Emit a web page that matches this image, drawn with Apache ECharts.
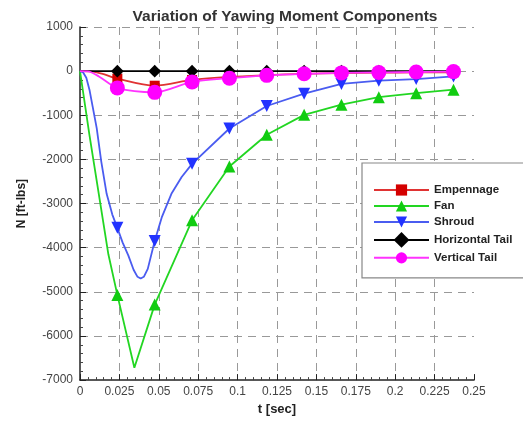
<!DOCTYPE html>
<html>
<head>
<meta charset="utf-8">
<script src="https://cdn.jsdelivr.net/npm/echarts@6/dist/echarts.min.js"></script>
<style>
  html, body { margin: 0; padding: 0; background: #fff; }
  #chart { width: 523px; height: 421px; }
</style>
</head>
<body>
<div id="chart"></div>
<script>
// times where the plot puts a marker
var markerT = [0.0237, 0.0474, 0.0711, 0.0948, 0.1185, 0.1422, 0.1659, 0.1896, 0.2133, 0.237];

// Empennage
var tEmp = [0, 0.008, 0.015, 0.0237, 0.0474, 0.0711, 0.0948, 0.1185, 0.1422, 0.1659, 0.1896, 0.2133, 0.237];
var vEmp = [0, -10, -70, -170, -330, -200, -130, -90, -60, -45, -35, -30, -25];

// Fan
var tFan = [0, 0.006, 0.018, 0.0237, 0.0345, 0.0474, 0.0711, 0.0948, 0.1185, 0.1422, 0.1659, 0.1896, 0.2133, 0.237];
var vFan = [0, -1450, -4150, -5070, -6720, -5290, -3380, -2160, -1440, -990, -760, -590, -500, -420];

// Shroud
var tShr = [0, 0.002, 0.004, 0.006, 0.008, 0.0106, 0.0135, 0.0169, 0.0205, 0.0237, 0.027, 0.0307, 0.034, 0.0365, 0.0385, 0.0405, 0.043, 0.0474, 0.052, 0.058, 0.0645, 0.0711, 0.0948, 0.1185, 0.1422, 0.1659, 0.1896, 0.2133, 0.237];
var vShr = [0, -30, -150, -420, -800, -1290, -2050, -2780, -3250, -3550, -3880, -4180, -4500, -4660, -4700, -4660, -4480, -3850, -3300, -2780, -2400, -2100, -1300, -790, -510, -290, -215, -180, -120];

// Horizontal Tail
var tHor = [0, 0.0237, 0.0474, 0.0711, 0.0948, 0.1185, 0.1422, 0.1659, 0.1896, 0.2133, 0.237];
var vHor = [0, 0, 0, 0, 0, 0, 0, 0, 0, 0, 0];

// Vertical Tail
var tVer = [0, 0.005, 0.012, 0.0237, 0.0474, 0.0711, 0.0948, 0.1185, 0.1422, 0.1659, 0.1896, 0.2133, 0.237];
var vVer = [0, -5, -120, -380, -480, -245, -160, -95, -60, -40, -30, -20, -10];

var font = 'Liberation Sans, Arial, sans-serif';

function pts(ts, vs) {
  return ts.map(function (t, i) {
    var item = { value: [t, vs[i]] };
    if (markerT.indexOf(t) < 0) item.symbol = 'none';
    return item;
  });
}

function mkSeries(name, ts, vs, color, mcolor, symbol, size, rot, smooth) {
  return {
    name: name,
    type: 'line',
    data: pts(ts, vs),
    smooth: smooth,
    symbol: symbol,
    symbolSize: size,
    symbolRotate: rot,
    showAllSymbol: true,
    lineStyle: { color: color, width: 1.8 },
    itemStyle: { color: mcolor },
    emphasis: { disabled: true },
    animation: false
  };
}

var myChart = echarts.init(document.getElementById('chart'), null, { renderer: 'canvas' });
myChart.setOption({
  backgroundColor: '#fff',
  animation: false,
  title: {
    text: 'Variation of Yawing Moment Components',
    left: 280,
    top: 4,
    textAlign: 'center',
    textStyle: { fontFamily: font, fontSize: 15.5, fontWeight: 'bold', color: '#333' }
  },
  legend: {
    orient: 'vertical',
    left: 362,
    top: 163,
    padding: [21, 16, 14, 11],
    itemWidth: 55,
    itemHeight: 14,
    itemGap: 4,
    backgroundColor: '#fff',
    borderColor: '#888',
    borderWidth: 1.2,
    borderRadius: 0,
    selectedMode: false,
    textStyle: { fontFamily: font, fontSize: 11.5, fontWeight: 'bold', color: '#222' },
    data: ['Empennage', 'Fan', 'Shroud', 'Horizontal Tail', 'Vertical Tail']
  },
  grid: { left: 80, top: 27, width: 394, height: 358, containLabel: false },
  xAxis: {
    type: 'value',
    min: 0,
    max: 0.25,
    interval: 0.025,
    name: 't [sec]',
    nameLocation: 'middle',
    nameGap: 20,
    nameTextStyle: { fontFamily: font, fontSize: 13, fontWeight: 'bold', color: '#222' },
    axisLine: { onZero: false, lineStyle: { color: '#222', width: 1.5 } },
    axisTick: { inside: true, length: 6, lineStyle: { color: '#222' } },
    minorTick: { show: true, splitNumber: 5, length: 3, lineStyle: { color: '#444' } },
    axisLabel: {
      margin: 6,
      fontFamily: font,
      fontSize: 12,
      color: '#444',
      formatter: function (v) { return String(+v.toFixed(3)); }
    },
    splitLine: {
      show: true,
      showMinLine: false,
      showMaxLine: false,
      lineStyle: { color: '#999', width: 1, type: [8, 6] }
    }
  },
  yAxis: {
    type: 'value',
    min: -7000,
    max: 1000,
    interval: 1000,
    name: 'N [ft-lbs]',
    nameLocation: 'middle',
    nameGap: 52,
    nameTextStyle: { fontFamily: font, fontSize: 12, fontWeight: 'bold', color: '#222' },
    axisLine: { onZero: false, lineStyle: { color: '#222', width: 1.5 } },
    axisTick: { inside: true, length: 6, lineStyle: { color: '#222' } },
    minorTick: { show: true, splitNumber: 5, length: 3, lineStyle: { color: '#444' } },
    axisLabel: {
      margin: 7,
      fontFamily: font,
      fontSize: 12,
      color: '#444',
      formatter: function (v) { return String(v); }
    },
    splitLine: {
      show: true,
      showMinLine: false,
      lineStyle: { color: '#999', width: 1, type: [8, 6] }
    }
  },
  series: [
    mkSeries('Empennage', tEmp, vEmp, '#e03333', '#d40000', 'rect', 10, 0, 0.3),
    mkSeries('Fan', tFan, vFan, '#22d622', '#11cc11', 'triangle', 12, 0, false),
    mkSeries('Shroud', tShr, vShr, '#4a5cf0', '#2233ff', 'triangle', 12, 180, false),
    mkSeries('Horizontal Tail', tHor, vHor, '#000', '#000', 'rect', 9, 45, false),
    mkSeries('Vertical Tail', tVer, vVer, '#ff33ff', '#ff00ff', 'circle', 15, 0, 0.3)
  ]
});
</script>
</body>
</html>
